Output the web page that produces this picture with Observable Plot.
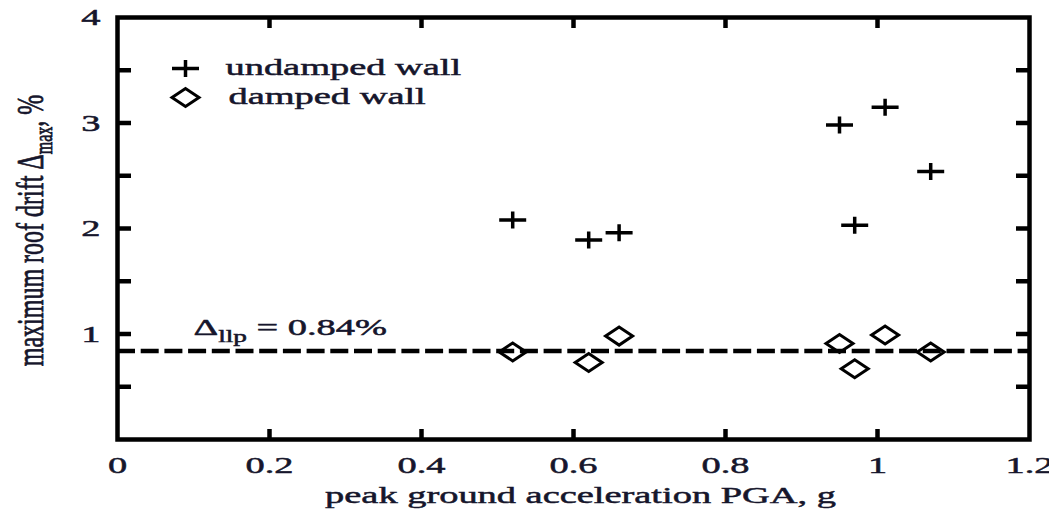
<!DOCTYPE html>
<html>
<head>
<meta charset="utf-8">
<script src="https://cdn.jsdelivr.net/npm/d3@7"></script>
<script src="https://cdn.jsdelivr.net/npm/@observablehq/plot@0.6"></script>
<style>
  html, body { margin: 0; padding: 0; background: #fff; }
  svg text { font-family: "Liberation Serif", "Times New Roman", serif; }
</style>
</head>
<body>
<div id="chart"></div>
<script>
// ---- data ----
const pga = [0.52, 0.62, 0.66, 0.95, 0.97, 1.01, 1.07];
const undampedDrift = [2.08, 1.89, 1.96, 2.98, 2.03, 3.15, 2.54];
const dampedDrift = [0.83, 0.73, 0.98, 0.91, 0.67, 0.99, 0.83];
const seriesNames = ["undamped wall", "damped wall"];
const llpDrift = [0.84];
const llpLabelX = [0.1];
const xTickValues = [0, 0.2, 0.4, 0.6, 0.8, 1, 1.2];
const xInnerTicks = [0.2, 0.4, 0.6, 0.8, 1];
const yTickValues = [1, 2, 3, 4];
const yInnerTicks = [0.5, 1, 1.5, 2, 2.5, 3, 3.5];
const xLabel = "peak ground acceleration PGA, g";
const yLabel = "maximum roof drift \u0394max, %";
const llpLabel = "\u0394llp = 0.84%";

const undamped = pga.map((x, i) => ({x, y: undampedDrift[i]}));
const damped = pga.map((x, i) => ({x, y: dampedDrift[i]}));

// custom open symbols (wide, like the stretched original)
const plusSym = {draw(ctx) { ctx.moveTo(-13.5, 0); ctx.lineTo(13.5, 0); ctx.moveTo(0, -8.5); ctx.lineTo(0, 8.5); }};
const diamondSym = {draw(ctx) { ctx.moveTo(-13.5, 0); ctx.lineTo(0, -9); ctx.lineTo(13.5, 0); ctx.lineTo(0, 9); ctx.closePath(); }};

const ink = "#16162c";
const FS = 24;

const chart = Plot.plot({
  width: 1049,
  height: 516,
  marginLeft: 117,
  marginRight: 20,
  marginTop: 17,
  marginBottom: 77,
  style: {fontFamily: "'Liberation Serif', serif", fontSize: FS + "px", color: "#000", background: "#fff"},
  x: {domain: [0, 1.2]},
  y: {domain: [0, 4]},
  marks: [
    // inward ticks on all four sides
    Plot.axisX({anchor: "bottom", ticks: xInnerTicks, tickSize: -10, text: null, strokeWidth: 4.5, label: null}),
    Plot.axisX({anchor: "top", ticks: xInnerTicks, tickSize: -10, text: null, strokeWidth: 4.5, label: null}),
    Plot.axisY({anchor: "left", ticks: yInnerTicks, tickSize: -14, text: null, strokeWidth: 4.5, label: null}),
    Plot.axisY({anchor: "right", ticks: yInnerTicks, tickSize: -14, text: null, strokeWidth: 4.5, label: null}),
    // tick labels
    Plot.axisX({anchor: "bottom", ticks: xTickValues, tickSize: 0, tickPadding: 16, tickFormat: d3.format("~g"), fill: ink, fontSize: FS, label: null}),
    Plot.axisY({anchor: "left", ticks: yTickValues, tickSize: 0, tickPadding: 17, tickFormat: d3.format("~g"), fill: ink, fontSize: FS, label: null}),
    // axis titles
    Plot.text([xLabel], {frameAnchor: "bottom", dx: 7, dy: 56, textAnchor: "middle", lineAnchor: "middle", fill: ink, fontSize: FS}),
    Plot.text([yLabel], {frameAnchor: "left", dx: -87, dy: 2, rotate: -90, textAnchor: "middle", lineAnchor: "middle", fill: ink, fontSize: FS}),
    // threshold line
    Plot.ruleY(llpDrift, {stroke: "#000", strokeWidth: 4.5, strokeDasharray: "18,5.7"}),
    Plot.text(llpDrift, {x: llpLabelX[0], y: d => d, dy: -24, textAnchor: "start", lineAnchor: "middle", text: () => llpLabel, fill: ink, fontSize: FS}),
    // data
    Plot.dot(undamped, {x: "x", y: "y", symbol: plusSym, fill: "none", stroke: "#000", strokeWidth: 3.5}),
    Plot.dot(damped, {x: "x", y: "y", symbol: diamondSym, fill: "none", stroke: "#000", strokeWidth: 3}),
    // legend
    Plot.dot([seriesNames[0]], {frameAnchor: "top-left", dx: 68, dy: 51, symbol: plusSym, fill: "none", stroke: "#000", strokeWidth: 3.5}),
    Plot.dot([seriesNames[1]], {frameAnchor: "top-left", dx: 68, dy: 80, symbol: diamondSym, fill: "none", stroke: "#000", strokeWidth: 3}),
    Plot.text([seriesNames[0]], {frameAnchor: "top-left", dx: 108, dy: 50, textAnchor: "start", lineAnchor: "middle", fill: ink, fontSize: FS}),
    Plot.text([seriesNames[1]], {frameAnchor: "top-left", dx: 111, dy: 79, textAnchor: "start", lineAnchor: "middle", fill: ink, fontSize: FS}),
    // frame
    Plot.frame({stroke: "#000", strokeWidth: 4.5})
  ]
});

document.getElementById("chart").appendChild(chart);

// ---- post-processing: subscripts and horizontal glyph stretch ----
const NS = "http://www.w3.org/2000/svg";
function withSub(el, before, sub, after, subSize, shift) {
  el.textContent = "";
  const a = document.createElementNS(NS, "tspan"); a.textContent = before; el.appendChild(a);
  const b = document.createElementNS(NS, "tspan"); b.textContent = sub;
  b.setAttribute("font-size", subSize); b.setAttribute("dy", shift); el.appendChild(b);
  const c = document.createElementNS(NS, "tspan"); c.textContent = after;
  c.setAttribute("dy", -shift); el.appendChild(c);
}
const K = 1.6;
chart.querySelectorAll("text").forEach(el => {
  const t = el.textContent;
  el.setAttribute("stroke", ink);
  el.setAttribute("stroke-width", "0.5");
  if (t === yLabel) {
    withSub(el, "maximum roof drift \u0394", "max", ", %", 16, 6);
    el.setAttribute("text-anchor", "middle");
    el.setAttribute("transform", (el.getAttribute("transform") || "") + " scale(1," + K + ")");
    return;
  }
  if (t === llpLabel) {
    withSub(el, "\u0394", "llp", " = 0.84%", 17, 7);
  }
  const len = el.getComputedTextLength();
  if (len > 0) {
    el.setAttribute("textLength", (len * K).toFixed(1));
    el.setAttribute("lengthAdjust", "spacingAndGlyphs");
  }
});
</script>
</body>
</html>
